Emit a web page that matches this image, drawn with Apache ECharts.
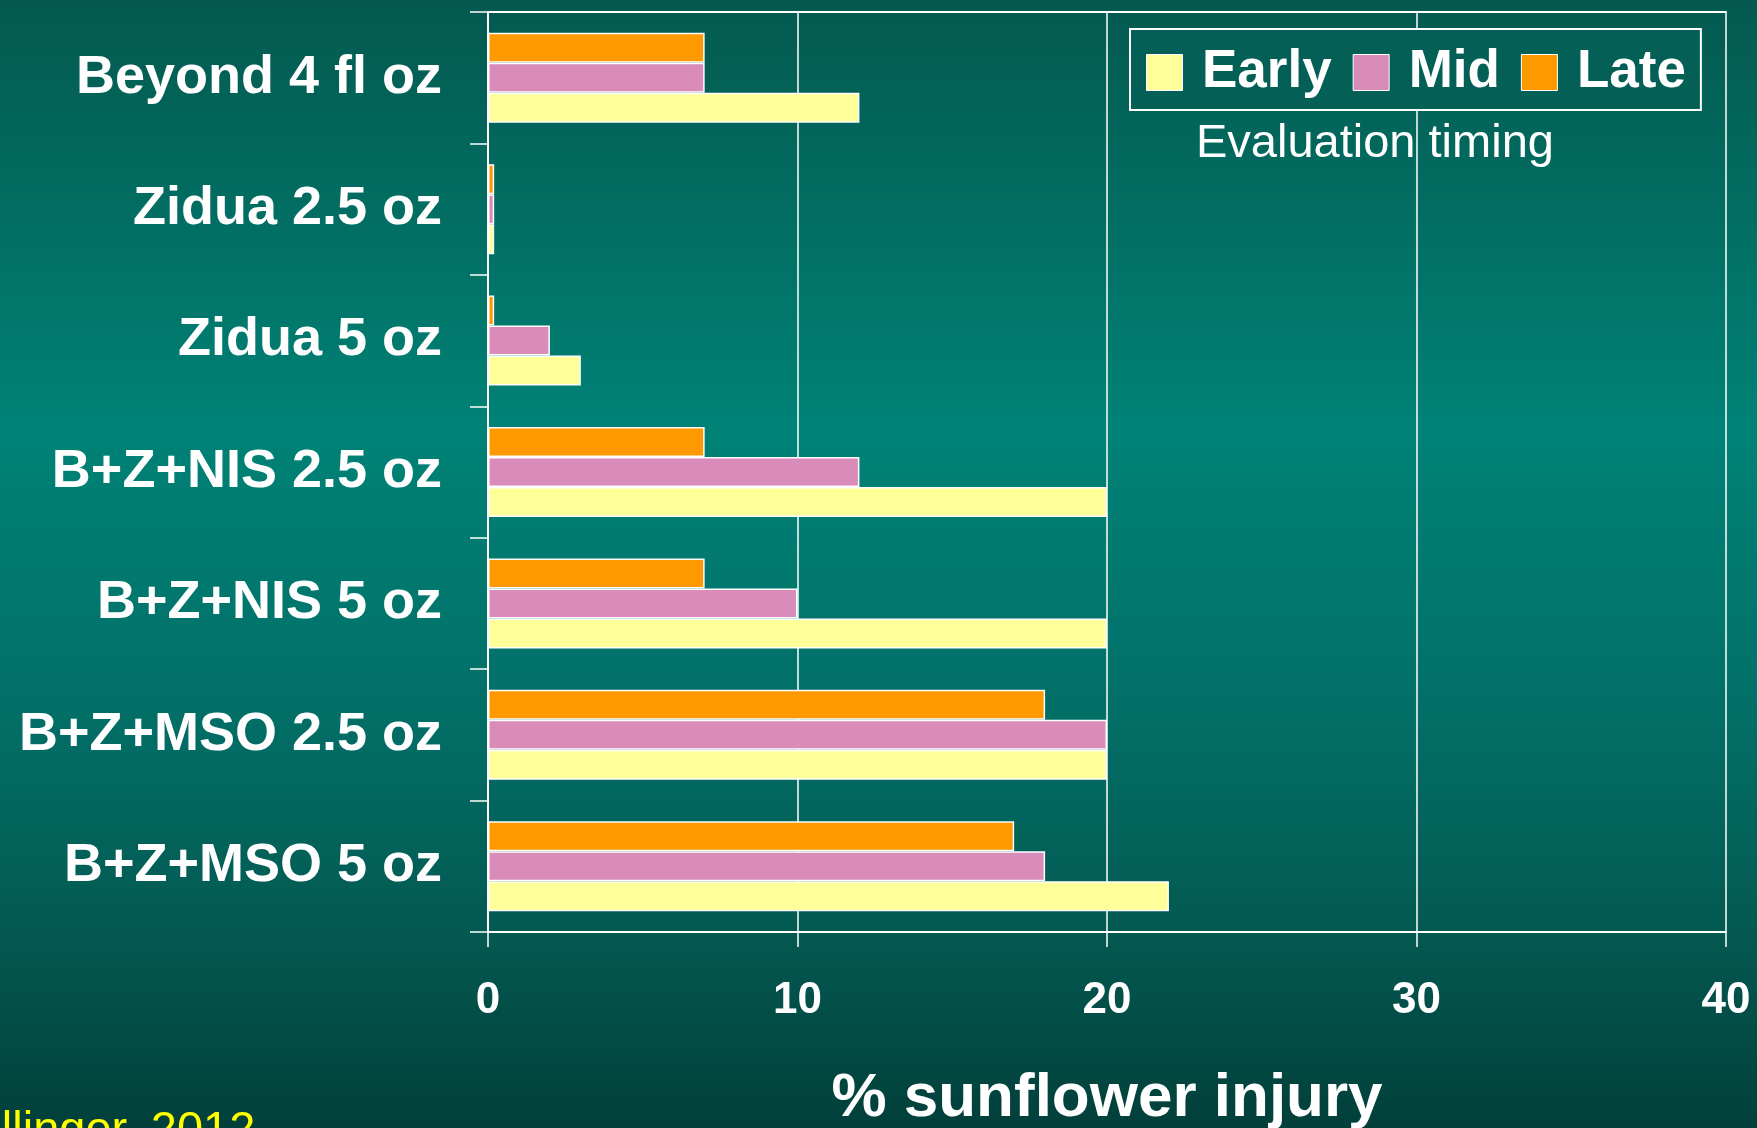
<!DOCTYPE html>
<html>
<head>
<meta charset="utf-8">
<script src="https://cdn.jsdelivr.net/npm/echarts@6/dist/echarts.min.js"></script>
<style>
  html, body { margin: 0; padding: 0; }
  #chart { width: 1757px; height: 1128px; }
</style>
</head>
<body>
<div id="chart"></div>
<script>
// Categories listed top to bottom as in the reference
const categories = ['Beyond 4 fl oz', 'Zidua 2.5 oz', 'Zidua 5 oz', 'B+Z+NIS 2.5 oz', 'B+Z+NIS 5 oz', 'B+Z+MSO 2.5 oz', 'B+Z+MSO 5 oz'];
const early = [12, 0.2, 3, 20, 20, 20, 22];
const mid   = [7, 0.2, 2, 12, 10, 20, 18];
const late  = [7, 0.2, 0.2, 7, 7, 18, 17];
const seriesNames = ['Early', 'Mid', 'Late'];
const seriesColors = ['#FFFF99', '#D98BB9', '#FF9900'];
const xMin = 0, xMax = 40, xStep = 10;
const axisTitle = '% sunflower injury';
const legendTitle = 'Evaluation timing';
const citation = 'Zollinger, 2012';

const FONT = '"Liberation Sans", Arial, sans-serif';
const chart = echarts.init(document.getElementById('chart'), null, { renderer: 'canvas' });

function barSeries(name, data, color) {
  return {
    name: name,
    type: 'bar',
    data: data,
    xAxisIndex: 0,
    yAxisIndex: 0,
    barGap: '0%',
    barCategoryGap: '31.5%',
    itemStyle: { color: color, borderColor: '#ffffff', borderWidth: 1.5 },
    emphasis: { disabled: true },
    animation: false
  };
}

const option = {
  animation: false,
  backgroundColor: {
    type: 'linear', x: 0, y: 0, x2: 0, y2: 1,
    colorStops: [
      { offset: 0, color: '#04594f' },
      { offset: 0.38, color: '#008276' },
      { offset: 0.62, color: '#027068' },
      { offset: 0.82, color: '#035a52' },
      { offset: 1, color: '#023f3a' }
    ]
  },
  grid: { left: 488, right: 31, top: 12, bottom: 196, containLabel: false, outerBoundsMode: 'none' },
  legend: {
    data: seriesNames,
    left: 1130, top: 29,
    orient: 'horizontal',
    itemWidth: 36, itemHeight: 36,
    itemGap: 21,
    padding: [17, 15, 11, 16],
    borderColor: '#ffffff', borderWidth: 2,
    backgroundColor: '#045f56',
    icon: 'rect',
    itemStyle: { borderColor: '#ffffff', borderWidth: 1 },
    textStyle: { color: '#ffffff', fontFamily: FONT, fontWeight: 'bold', fontSize: 53, padding: [9, 0, 0, 14.5] },
    selectedMode: false
  },
  xAxis: [
    {
      type: 'value', position: 'bottom', min: xMin, max: xMax, interval: xStep,
      axisLine: { show: true, lineStyle: { color: '#ffffff', width: 2 } },
      axisTick: { show: true, length: 15, lineStyle: { color: '#ffffff', width: 1.5 } },
      splitLine: { show: true, lineStyle: { color: '#ffffff', width: 1.5 } },
      axisLabel: { color: '#ffffff', fontFamily: FONT, fontWeight: 'bold', fontSize: 44, margin: 47 },
      name: axisTitle, nameLocation: 'middle', nameGap: 136,
      nameTextStyle: { color: '#ffffff', fontFamily: FONT, fontWeight: 'bold', fontSize: 62 }
    },
    {
      type: 'value', position: 'top', min: xMin, max: xMax, interval: xStep,
      axisLine: { show: true, lineStyle: { color: '#ffffff', width: 2 } },
      axisTick: { show: false }, axisLabel: { show: false }, splitLine: { show: false }
    }
  ],
  yAxis: {
    type: 'category', inverse: true, data: categories,
    axisLine: { show: true, lineStyle: { color: '#ffffff', width: 2 } },
    axisTick: { show: true, length: 18, lineStyle: { color: '#ffffff', width: 1.5 } },
    axisLabel: { color: '#ffffff', fontFamily: FONT, fontWeight: 'bold', fontSize: 54, margin: 46, padding: [6, 0, 0, 0] }
  },
  series: [
    barSeries(seriesNames[2], late, seriesColors[2]),
    barSeries(seriesNames[1], mid, seriesColors[1]),
    barSeries(seriesNames[0], early, seriesColors[0])
  ],
  graphic: [
    {
      type: 'text', left: 1196, top: 121, silent: true,
      style: { text: legendTitle, fill: '#ffffff', font: 'normal 47px ' + FONT }
    },
    {
      type: 'text', x: -53, y: 1131.5, silent: true,
      style: {
        text: citation, fill: '#ffff00', font: 'normal 47px ' + FONT,
        verticalAlign: 'middle', align: 'left',
        textShadowColor: '#000000', textShadowOffsetX: 2, textShadowOffsetY: 2, textShadowBlur: 0
      }
    }
  ]
};
chart.setOption(option);
</script>
</body>
</html>
